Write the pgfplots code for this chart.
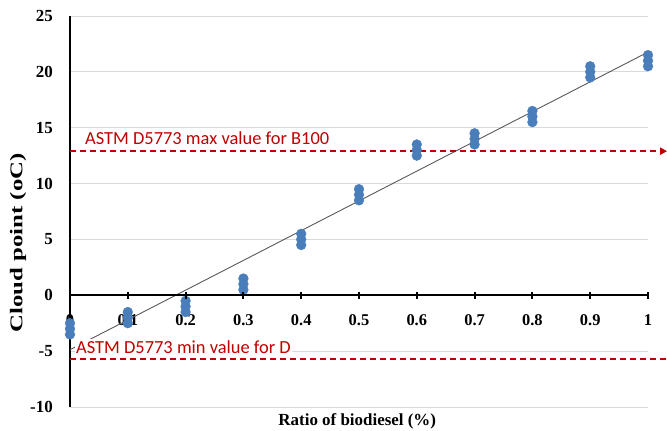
\documentclass[border=0pt]{standalone}
\usepackage{pgfplots}
\pgfplotsset{compat=1.18}
\usepackage{fontspec}
\setmainfont{Liberation Serif}
\newfontfamily\calfont{Carlito}
\usetikzlibrary{arrows.meta}
\definecolor{ptblue}{RGB}{74,126,187}
\definecolor{astmred}{RGB}{192,0,0}
\definecolor{gridgray}{RGB}{217,217,217}
\begin{document}
\begin{tikzpicture}
\useasboundingbox (-70bp,-24bp) rectangle (597bp,407bp);
\begin{axis}[
  at={(0,0)}, anchor=south west,
  scale only axis, width=578bp, height=391bp,
  xmin=0, xmax=1, ymin=-10, ymax=25,
  clip=false,
  axis x line=middle, axis y line=left,
  x axis line style={-, line width=2.4bp, black},
  y axis line style={-, line width=2.4bp, black},
  xtick={0,0.1,0.2,0.3,0.4,0.5,0.6,0.7,0.8,0.9,1},
  xticklabels={0,0.1,0.2,0.3,0.4,0.5,0.6,0.7,0.8,0.9,1},
  hide obscured x ticks=false,
  ytick={-10,-5,0,5,10,15,20,25},
  yticklabels={-10,-5,0,5,10,15,20,25},
  ymajorgrids, grid style={gridgray, line width=0.8bp},
  tick align=center, major tick length=6bp,
  ytick style={draw=none},
  xticklabel style={anchor=center, yshift=-22bp, font=\fontsize{16.5}{18}\selectfont\bfseries},
  yticklabel style={anchor=east, inner sep=0pt, xshift=-14bp, font=\fontsize{17}{19}\selectfont\bfseries},
  xlabel={Ratio of biodiesel (\%)},
  xlabel style={at={(axis description cs:0.497,-0.036)}, anchor=center, font=\fontsize{17}{20}\selectfont\bfseries},
  ylabel={\scalebox{1.38}[1]{Cloud point (oC)}},
  ylabel style={at={(axis description cs:-0.09,0.42)}, anchor=center, font=\fontsize{18}{20}\selectfont\bfseries},
]
\addplot[only marks, mark=*, mark size=4.9bp, color=ptblue, mark options={draw=ptblue, fill=ptblue}] coordinates {
(0,-2.5) (0,-3) (0,-3.5)
(0.1,-1.5) (0.1,-2) (0.1,-2.5)
(0.2,-0.5) (0.2,-1) (0.2,-1.5)
(0.3,0.5) (0.3,1) (0.3,1.5)
(0.4,4.5) (0.4,5) (0.4,5.5)
(0.5,8.5) (0.5,9) (0.5,9.5)
(0.6,12.5) (0.6,13) (0.6,13.5)
(0.7,13.5) (0.7,14) (0.7,14.5)
(0.8,15.5) (0.8,16) (0.8,16.5)
(0.9,19.5) (0.9,20) (0.9,20.5)
(1,20.5) (1,21) (1,21.5)
};
\addplot[black!65, line width=0.9bp] coordinates {(0,-4.87) (1,21.77)};
\addplot[astmred, dash pattern=on 6bp off 4bp, line width=1.8bp, -{Triangle[length=7bp,width=7bp]}] coordinates {(0,12.9) (1.033,12.9)};
\addplot[astmred, dash pattern=on 6bp off 4bp, line width=1.8bp] coordinates {(0,-5.7) (1.033,-5.7)};
\node[anchor=west, text=astmred, font=\calfont\fontsize{18.5}{20}\selectfont, fill=white, inner sep=1bp] at (axis cs:0.0242,14.1) {ASTM D5773 max value for B100};
\node[anchor=west, text=astmred, font=\calfont\fontsize{18.5}{20}\selectfont, fill=white, inner sep=1bp] at (axis cs:0.0087,-4.6) {ASTM D5773 min value for D};
\pgfplotsinvokeforeach{0,...,10}{\coordinate (tk#1) at (axis cs:#1/10,0);}
\end{axis}
% x axis line at y = 0 and its centred tick marks, as filled bars
\fill[black] ([yshift=-1.2bp]tk0) rectangle ([yshift=1.2bp]tk10);
\foreach \i in {1,...,10}{
  \fill[black] ([xshift=-1bp,yshift=-3.5bp]tk\i) rectangle ([xshift=1bp,yshift=3.5bp]tk\i);
}
\end{tikzpicture}
\end{document}
